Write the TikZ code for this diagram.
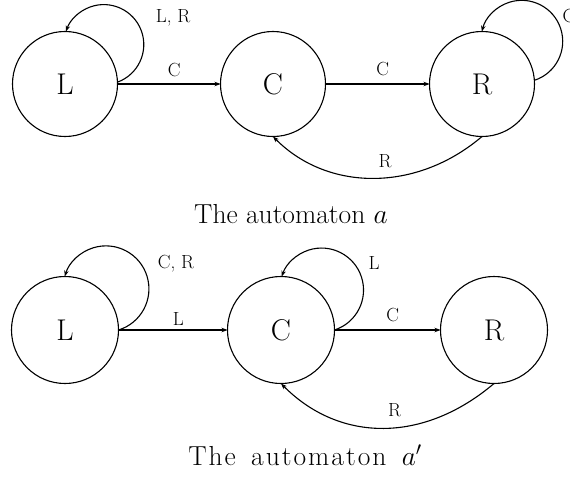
\RequirePackage{fix-cm}
\documentclass[tikz,border=0pt]{standalone}
\usepackage{fontspec}
\usetikzlibrary{arrows.meta}
\newcommand{\lk}{\kern2pt}
\begin{document}
\begin{tikzpicture}[x=1pt,y=1pt,
  statetop/.style={circle,draw,line width=1.1pt,minimum size=105pt,inner sep=0pt,outer sep=0pt,font=\fontsize{30}{30}\selectfont},
  statebot/.style={statetop,minimum size=107pt},
  lbl/.style={font=\fontsize{19}{19}\selectfont,inner sep=0pt},
  captxt/.style={font=\fontsize{27.5}{27.5}\selectfont,inner sep=0pt,anchor=base},
  tr/.style={line width=1.1pt,-{Stealth[length=6pt,width=4.5pt]}},
]
\useasboundingbox (0,0) rectangle (570,483);
% automaton a
\node[statetop] (L1) at (65,399) {L};
\node[statetop] (C1) at (273,399) {C};
\node[statetop] (R1) at (482,399) {R};
\draw[tr] (L1.east) -- node[lbl,above=7pt,pos=0.55]{C} (C1.west);
\draw[tr] (C1.east) -- node[lbl,above=8pt,pos=0.55]{C} (R1.west);
\draw[tr] (L1.2) arc[start angle=-70,end angle=160.9,radius=40];
\draw[tr] (R1.4) arc[start angle=-72,end angle=166.2,radius=41];
\draw[tr] (R1.south) .. controls (417,291) and (328,291) .. node[lbl,pos=0.45,above=9pt]{R} (C1.south);
\node[lbl] (lr1) at (173,465) {L, R};
\node[lbl] (c1) at (569,467) {C};
\node[captxt] (cap1) at (291,260) {The automaton $a$};
% automaton a'
\node[statebot] (L2) at (65,153) {L};
\node[statebot] (C2) at (281,153) {C};
\node[statebot] (R2) at (494,153) {R};
\draw[tr] (L2.east) -- node[lbl,above=4pt,pos=0.55]{L} (C2.west);
\draw[tr] (C2.east) -- node[lbl,above=8pt,pos=0.55]{C} (R2.west);
\draw[tr] (L2.0) arc[start angle=-73,end angle=163.2,radius=43];
\draw[tr] (C2.0) arc[start angle=-72,end angle=161.3,radius=42];
\draw[tr] (R2.south) .. controls (424,40) and (340,40) .. node[lbl,pos=0.45,above=10pt]{R} (C2.south);
\node[lbl] (cr2) at (176,219) {C, R};
\node[lbl] (l2) at (374,220) {L};
\node[captxt] (cap2) at (305,18) {T\lk h\lk e\hspace{7pt} a\lk u\lk t\lk o\lk m\lk a\lk t\lk o\lk n\hspace{7pt} $a'$};
\end{tikzpicture}
\end{document}
